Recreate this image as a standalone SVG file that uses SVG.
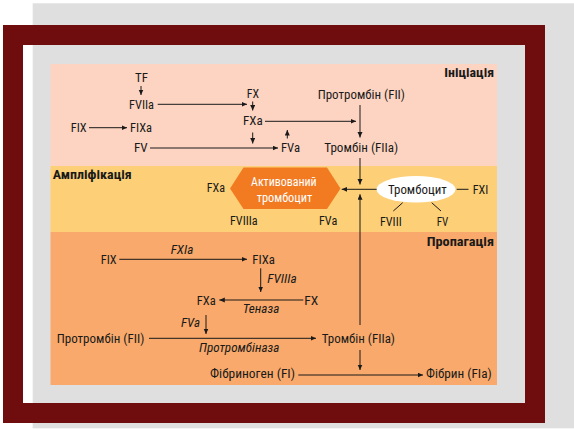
<svg xmlns="http://www.w3.org/2000/svg" width="574" height="430" viewBox="0 0 574 430">
<defs>
<marker id="ah" markerUnits="userSpaceOnUse" markerWidth="6" markerHeight="6" refX="5.5" refY="2.5" orient="auto">
<path d="M0,0 L5.5,2.5 L0,5 z" fill="#1a1a1a"/>
</marker>
<style>
.t{font-family:"Liberation Sans Narrow","Roboto Condensed","DejaVu Sans Condensed","Liberation Sans",sans-serif;font-size:13px;fill:#1a1a1a}
.i{font-style:italic}
.b{font-weight:bold;font-size:12.5px}
.w{fill:#ffffff}
.c line,.c path{stroke:#1a1a1a;stroke-width:1;fill:none}
.a{marker-end:url(#ah)}
</style>
</defs>
<rect x="0" y="0" width="574" height="430" fill="#ffffff"/>
<rect x="32.7" y="3.3" width="541.3" height="425" fill="#dfdfdf"/>
<path d="M3,25 H545 V423 H3 Z M23,45 V403 H525 V45 Z" fill="#6e0c0e" fill-rule="evenodd"/>
<g id="bands">
<rect x="50.5" y="64" width="446.5" height="102" fill="#fdd4c1"/>
<rect x="50.5" y="166" width="446.5" height="66" fill="#fdd077"/>
<rect x="50.5" y="232" width="446.5" height="153" fill="#f8a96b"/>
</g>
<g id="labels">
<text class="t b" x="444.3" y="77.3" textLength="49.7" lengthAdjust="spacingAndGlyphs">Ініціація</text>
<text class="t b" x="52.7" y="179.3" textLength="79" lengthAdjust="spacingAndGlyphs">Ампліфікація</text>
<text class="t b" x="426.7" y="246" textLength="67.3" lengthAdjust="spacingAndGlyphs">Пропагація</text>
</g>
<g id="initiation">
<g id="n-tf"><text class="t" x="135" y="82" textLength="13" lengthAdjust="spacingAndGlyphs">TF</text></g>
<g id="n-fviia"><text class="t" x="129" y="109.3" textLength="25" lengthAdjust="spacingAndGlyphs">FVIIa</text></g>
<g id="n-fx1"><text class="t" x="246.7" y="97.7" textLength="12.3" lengthAdjust="spacingAndGlyphs">FX</text></g>
<g id="n-fxa1"><text class="t" x="243" y="125.3" textLength="19.7" lengthAdjust="spacingAndGlyphs">FXa</text></g>
<g id="n-fix1"><text class="t" x="70.7" y="131.7" textLength="16" lengthAdjust="spacingAndGlyphs">FIX</text></g>
<g id="n-fixa1"><text class="t" x="130" y="131.7" textLength="22" lengthAdjust="spacingAndGlyphs">FIXa</text></g>
<g id="n-fv1"><text class="t" x="134" y="152.3" textLength="13.7" lengthAdjust="spacingAndGlyphs">FV</text></g>
<g id="n-fva1"><text class="t" x="281" y="152.3" textLength="19" lengthAdjust="spacingAndGlyphs">FVa</text></g>
<g id="n-fii1"><text class="t" x="317.7" y="99" textLength="87.3" lengthAdjust="spacingAndGlyphs">Протромбін (FII)</text></g>
<g id="n-fiia1"><text class="t" x="324.3" y="152.3" textLength="74" lengthAdjust="spacingAndGlyphs">Тромбін (FIIa)</text></g>
</g>
<g id="amplification">
<g id="n-fxa2"><text class="t" x="206.7" y="191.7" textLength="18.3" lengthAdjust="spacingAndGlyphs">FXa</text></g>
<g id="n-active">
<path d="M230,188.5 L243.5,167.5 H327 L340.5,188.5 L327,209 H243.5 Z" fill="#f27b22"/>
<text class="t w" x="251" y="185.5" textLength="65.7" lengthAdjust="spacingAndGlyphs">Активований</text>
<text class="t w" x="256.7" y="201.5" textLength="55.6" lengthAdjust="spacingAndGlyphs">тромбоцит</text>
</g>
<g id="n-fviiia2"><text class="t" x="230" y="225" textLength="27.7" lengthAdjust="spacingAndGlyphs">FVIIIa</text></g>
<g id="n-fva2"><text class="t" x="319" y="225" textLength="18.3" lengthAdjust="spacingAndGlyphs">FVa</text></g>
<g id="n-platelet">
<ellipse cx="416" cy="189.3" rx="39.5" ry="13.3" fill="#ffffff"/>
<text class="t" x="388" y="193.5" textLength="58.7" lengthAdjust="spacingAndGlyphs">Тромбоцит</text>
</g>
<g id="n-fxi"><text class="t" x="472.7" y="193.5" textLength="15.6" lengthAdjust="spacingAndGlyphs">FXI</text></g>
<g id="n-fviii"><text class="t" x="380" y="225.7" textLength="21.7" lengthAdjust="spacingAndGlyphs">FVIII</text></g>
<g id="n-fv2"><text class="t" x="436.7" y="225.7" textLength="11.6" lengthAdjust="spacingAndGlyphs">FV</text></g>
</g>
<g id="propagation">
<g id="n-fix3"><text class="t" x="100.7" y="264.3" textLength="16" lengthAdjust="spacingAndGlyphs">FIX</text></g>
<g id="n-fixa3"><text class="t" x="252.3" y="264.3" textLength="22.7" lengthAdjust="spacingAndGlyphs">FIXa</text></g>
<g id="n-fxa3"><text class="t" x="196.7" y="305" textLength="19" lengthAdjust="spacingAndGlyphs">FXa</text></g>
<g id="n-fx3"><text class="t" x="304.3" y="305" textLength="14" lengthAdjust="spacingAndGlyphs">FX</text></g>
<g id="n-fii3"><text class="t" x="56.7" y="343.3" textLength="87.6" lengthAdjust="spacingAndGlyphs">Протромбін (FII)</text></g>
<g id="n-fiia3"><text class="t" x="321.7" y="343.3" textLength="73.3" lengthAdjust="spacingAndGlyphs">Тромбін (FIIa)</text></g>
<g id="n-fi"><text class="t" x="210" y="378.3" textLength="85" lengthAdjust="spacingAndGlyphs">Фібриноген (FI)</text></g>
<g id="n-fia"><text class="t" x="426" y="378.3" textLength="65.7" lengthAdjust="spacingAndGlyphs">Фібрин (FIa)</text></g>
</g>
<g id="connectors" class="c">
<line class="a" x1="141" y1="86" x2="141" y2="95"/>
<line class="a" x1="157.7" y1="104.3" x2="247" y2="104.3"/>
<line class="a" x1="252.7" y1="101.5" x2="252.7" y2="110.5"/>
<line class="a" x1="265" y1="121.3" x2="356" y2="121.3"/>
<line class="a" x1="89" y1="127.7" x2="127" y2="127.7"/>
<line class="a" x1="252.7" y1="132.5" x2="252.7" y2="143.5"/>
<line class="a" x1="150" y1="148" x2="278" y2="148"/>
<line class="a" x1="287.3" y1="138.5" x2="287.3" y2="130"/>
<line class="a" x1="360" y1="105" x2="360" y2="137.5"/>
<line class="a" x1="360" y1="158" x2="360" y2="184.5"/>
<line class="a" x1="376.7" y1="189.3" x2="341.7" y2="189.3"/>
<line class="a" x1="360" y1="325" x2="360" y2="194.3"/>
<line x1="456.7" y1="189.3" x2="468.5" y2="189.3"/>
<line x1="402.7" y1="202.7" x2="393.3" y2="211"/>
<line x1="431.7" y1="202.7" x2="441" y2="211"/>
<line class="a" x1="119.3" y1="259.3" x2="247" y2="259.3"/>
<text class="t i" x="170.7" y="254" textLength="22.6" lengthAdjust="spacingAndGlyphs" style="stroke:none">FXIa</text>
<line class="a" x1="260.7" y1="268.3" x2="260.7" y2="292"/>
<text class="t i" x="267.3" y="283.3" textLength="29.4" lengthAdjust="spacingAndGlyphs" style="stroke:none">FVIIIa</text>
<line class="a" x1="303.3" y1="300" x2="219.3" y2="300"/>
<text class="t i" x="242.7" y="313.3" textLength="36.6" lengthAdjust="spacingAndGlyphs" style="stroke:none">Теназа</text>
<line class="a" x1="206" y1="315" x2="206" y2="334"/>
<text class="t i" x="181" y="326.7" textLength="19" lengthAdjust="spacingAndGlyphs" style="stroke:none">FVa</text>
<line class="a" x1="149" y1="338.3" x2="316" y2="338.3"/>
<text class="t i" x="199" y="351.7" textLength="80.3" lengthAdjust="spacingAndGlyphs" style="stroke:none">Протромбіназа</text>
<line class="a" x1="360" y1="350" x2="360" y2="370"/>
<line class="a" x1="298.3" y1="375" x2="423" y2="375"/>
</g>
</svg>
